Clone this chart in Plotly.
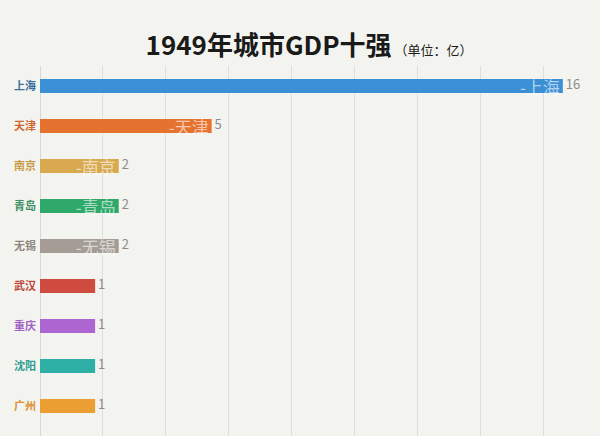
import plotly.graph_objects as go

cities = ['上海', '天津', '南京', '青岛', '无锡', '武汉', '重庆', '沈阳', '广州']
# bar lengths (mid-animation frame)
gdp = [16.6, 5.45, 2.5, 2.5, 2.5, 1.75, 1.75, 1.75, 1.75]
# numbers shown next to bars
gdp_labels = ['16', '5', '2', '2', '2', '1', '1', '1', '1']
# city names drawn inside the bars (only where they fit)
inner_labels = ['-上海', '-天津', '-南京', '-青岛', '-无锡', '', '', '', '']
colors = ['#3b8fd5', '#e6722f', '#d8a94f', '#2fa96a', '#a59d95',
          '#cf4a3f', '#ad65d2', '#2eb0a6', '#eb9f32']
label_colors = ['#3a6f9e', '#d0662c', '#c99a45', '#3b8f62', '#8e8780',
                '#c04538', '#a060c6', '#2f9d93', '#d99330']

ticktext = ['<span style="color:%s"><b>%s</b></span>' % (c, n) for n, c in zip(cities, label_colors)]

fig = go.Figure()
fig.add_trace(go.Bar(
    x=gdp, y=cities, orientation='h',
    marker=dict(color=colors, line=dict(width=0)),
    text=inner_labels, textposition='inside', insidetextanchor='end',
    constraintext='none', cliponaxis=False,
    textfont=dict(size=17, color='rgba(255,255,255,0.6)', family='Noto Sans CJK SC'),
    hoverinfo='skip',
))
fig.add_trace(go.Scatter(
    x=gdp, y=cities, mode='text', text=[' ' + t for t in gdp_labels],
    textposition='middle right',
    textfont=dict(size=13, color='#8c8c8c', family='Noto Sans CJK SC'),
    cliponaxis=False, hoverinfo='skip',
))

fig.update_layout(
    width=600, height=436,
    margin=dict(l=40, r=0, t=66, b=0),
    paper_bgcolor='#f3f4ef', plot_bgcolor='#f3f4ef',
    showlegend=False, bargap=0.65,
    title=dict(
        text='<b>1949年城市GDP十强</b><span style="font-size:13px"> （单位：亿）</span>',
        x=0.515, xanchor='center', y=0.895, yanchor='middle',
        font=dict(size=26, color='#1a1a1a', family='Noto Sans CJK SC'),
    ),
    font=dict(family='Noto Sans CJK SC'),
)
fig.update_xaxes(range=[0, 17.78], dtick=2, showticklabels=False,
                 showgrid=True, gridcolor='#dedfda', gridwidth=1,
                 zeroline=True, zerolinecolor='#d8d9d4', zerolinewidth=1)
fig.update_yaxes(range=[8.75, -0.5], tickmode='array', tickvals=cities, ticktext=ticktext,
                 tickfont=dict(size=11), showgrid=False, ticks='', ticklabelstandoff=3,
                 automargin=False)

fig.write_html("out.html", config={'displayModeBar': False},
               post_script="document.body.style.margin='0';")
